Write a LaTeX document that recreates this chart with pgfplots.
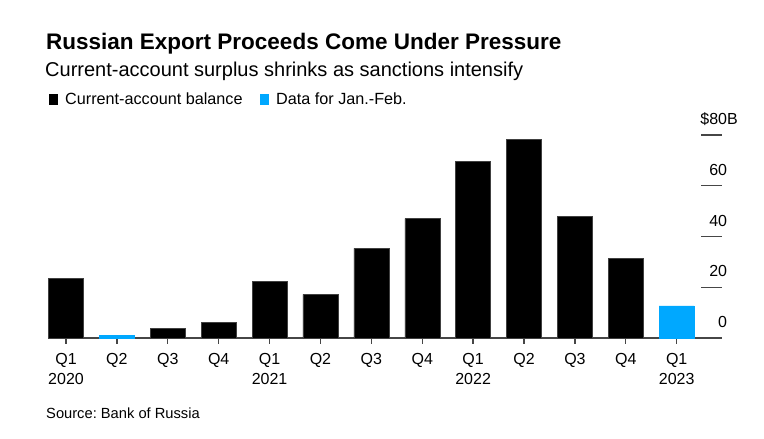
\documentclass[border=0pt]{standalone}
\usepackage{pgfplots}
\pgfplotsset{compat=1.18}
\usepackage{fontspec}
\setmainfont{Liberation Sans}
\frenchspacing
\definecolor{bbblue}{RGB}{0,168,255}
\definecolor{axgray}{RGB}{70,70,70}
\begin{document}
\begin{tikzpicture}
\path[use as bounding box] (0pt,0pt) rectangle (764pt,439pt);
\node[anchor=base west, inner sep=0pt, font=\bfseries\fontsize{22.5}{26}\selectfont] at (46pt,389pt) {Russian Export Proceeds Come Under Pressure};
\node[anchor=base west, inner sep=0pt, font=\fontsize{20}{24}\selectfont] at (45pt,362pt) {Current-account surplus shrinks as sanctions intensify};
\fill[black] (49pt,334pt) rectangle (58pt,345pt);
\node[anchor=base west, inner sep=0pt, font=\fontsize{16.2}{19}\selectfont] at (65pt,334pt) {Current-account balance};
\fill[bbblue] (260pt,334pt) rectangle (269pt,345pt);
\node[anchor=base west, inner sep=0pt, font=\fontsize{16.2}{19}\selectfont] at (276pt,334pt) {Data for Jan.-Feb.};
\node[anchor=base west, inner sep=0pt, font=\fontsize{14.7}{17}\selectfont] at (46pt,20pt) {Source: Bank of Russia};
\begin{axis}[
  at={(48pt,101pt)}, anchor=south west,
  width=674pt, height=203pt, scale only axis,
  xmin=-0.354, xmax=12.89, ymin=0, ymax=80,
  axis x line*=bottom, axis y line*=right,
  axis y line shift=-21pt,
  x axis line style={-, draw=axgray, line width=1.3pt},
  y axis line style={draw=none},
  tick align=outside,
  xtick={0,...,12},
  xticklabels={Q1\\2020,Q2,Q3,Q4,Q1\\2021,Q2,Q3,Q4,Q1\\2022,Q2,Q3,Q4,Q1\\2023},
  x tick label style={align=center, yshift=-8pt, font=\fontsize{16}{20}\selectfont, text=black},
  xtick style={draw=axgray, line width=1.3pt, /pgfplots/major tick length=6pt},
  ytick={0,20,40,60,80},
  yticklabels={0,20,40,60,\llap{\$}80\rlap{B}},
  y tick label style={anchor=east, inner sep=0pt, xshift=22pt, yshift=16pt, font=\fontsize{16}{19}\selectfont, text=black},
  ytick style={draw=axgray, line width=1.3pt, /pgfplots/major tick length=21pt},
  ybar, bar width=35pt, bar shift=0pt,
  clip=false,
]
\addplot[fill=black, draw=black!75, line width=0.5pt] coordinates {
(0,23.5) (2,3.7) (3,6.3) (4,22.3) (5,17.2) (6,35.3) (7,47.0) (8,69.6) (9,78.3) (10,47.8) (11,31.4)};
\addplot[fill=bbblue, draw=bbblue, line width=0.5pt] coordinates {
(1,1.0) (12,12.7)};
\end{axis}
\end{tikzpicture}
\end{document}
